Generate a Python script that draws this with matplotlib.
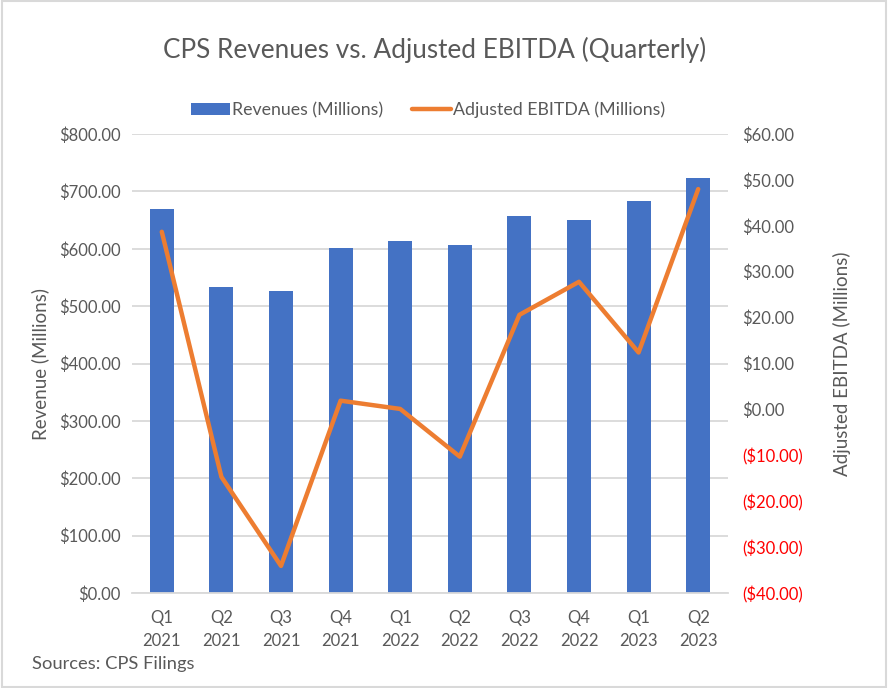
import matplotlib.pyplot as plt
from matplotlib.patches import Rectangle
from matplotlib.ticker import FuncFormatter
import numpy as np

plt.rcParams['font.family'] = ['Lato', 'DejaVu Sans']

# data
quarters = ['Q1\n2021', 'Q2\n2021', 'Q3\n2021', 'Q4\n2021', 'Q1\n2022',
            'Q2\n2022', 'Q3\n2022', 'Q4\n2022', 'Q1\n2023', 'Q2\n2023']
revenues = [669, 533, 526, 601, 613, 606, 657, 650, 683, 723]
ebitda = [38.7, -14.7, -34.1, 1.9, 0.1, -10.3, 20.6, 27.8, 12.4, 48.0]

blue = '#4472C4'
orange = '#ED7D31'
grey = '#595959'

fig = plt.figure(figsize=(8.88, 6.88), dpi=100)
ax = fig.add_axes([132/888, 1 - 593/688, 596/888, 459/688])
x = np.arange(len(quarters))

ax.bar(x, revenues, width=0.4, color=blue, zorder=2, label='Revenues (Millions)')
ax.set_xlim(-0.5, len(quarters) - 0.5)
ax.set_ylim(0, 800)
ax.set_yticks(np.arange(0, 801, 100))
ax.yaxis.set_major_formatter(FuncFormatter(lambda v, p: '${:,.2f}'.format(v)))
ax.grid(axis='y', color='#D9D9D9', linewidth=1.3, zorder=0)
ax.set_xticks(x)
ax.set_xticklabels(quarters, linespacing=1.6)
ax.set_ylabel('Revenue (Millions)', fontsize=13.5, color=grey, labelpad=7)

ax2 = ax.twinx()
ax2.plot(x, ebitda, color=orange, linewidth=3.2, solid_capstyle='round',
         zorder=3, label='Adjusted EBITDA (Millions)')
ax2.set_ylim(-40, 60)
ax2.set_yticks(np.arange(-40, 61, 10))

def money(v, p):
    if v < 0:
        return '(${:,.2f})'.format(-v)
    return '${:,.2f}'.format(v)

ax2.yaxis.set_major_formatter(FuncFormatter(money))
ax2.set_ylabel('Adjusted EBITDA (Millions)', fontsize=13.5, color=grey, labelpad=22)

for a in (ax, ax2):
    for s in a.spines.values():
        s.set_visible(False)
    a.tick_params(length=0, labelsize=12, colors=grey, pad=8)
ax2.tick_params(axis='y', pad=10)
ax.spines['bottom'].set_visible(True)
ax.spines['bottom'].set_color('#D9D9D9')
ax.spines['bottom'].set_linewidth(1.3)
ax.tick_params(axis='x', pad=12)
for lbl, v in zip(ax2.get_yticklabels(), ax2.get_yticks()):
    if v < 0:
        lbl.set_color('red')

fig.text(435/888, 1 - 50/688, 'CPS Revenues vs. Adjusted EBITDA (Quarterly)',
         ha='center', va='center', fontsize=18.8, color=grey)

h1, l1 = ax.get_legend_handles_labels()
h2, l2 = ax2.get_legend_handles_labels()
fig.legend(h1 + h2, l1 + l2, loc='center', bbox_to_anchor=(428/888, 1 - 110/688),
           ncol=2, frameon=False, fontsize=12.8, labelcolor=grey,
           handlelength=2.2, handletextpad=0.1, columnspacing=1.6)

fig.text(32/888, 1 - 664/688, 'Sources: CPS Filings', ha='left', va='center',
         fontsize=13.2, color=grey)

fig.patches.append(Rectangle((0.002, 0.002), 0.996, 0.996, transform=fig.transFigure,
                             fill=False, edgecolor='#D9D9D9', linewidth=1.5))

fig.savefig('out.png', dpi=100)
